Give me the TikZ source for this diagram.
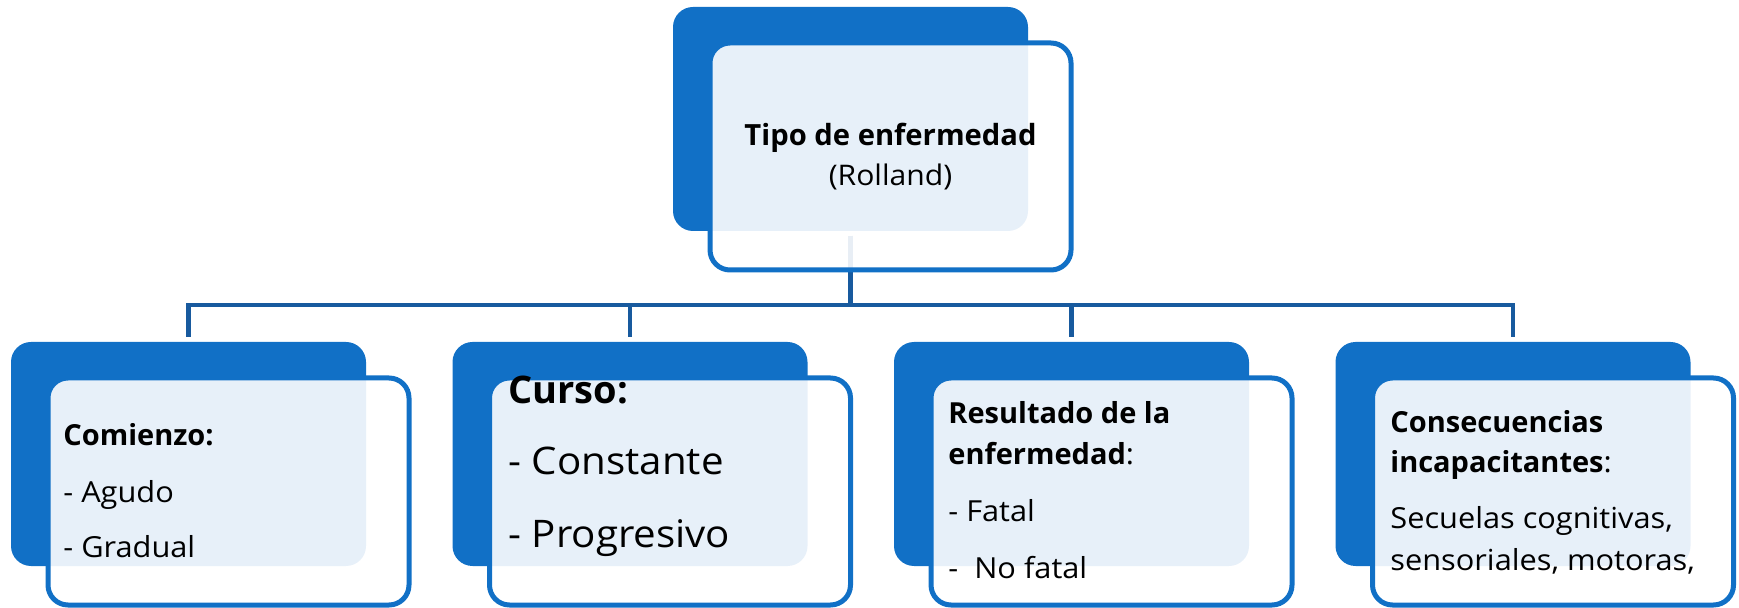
\documentclass[tikz,border=0pt]{standalone}
\usepackage{fontspec}
\setmainfont{Open Sans}[UprightFeatures={FakeStretch=1.06}]
\usepackage{tikz}

\definecolor{boxblue}{RGB}{17,112,198}
\definecolor{linkblue}{RGB}{24,90,158}

\tikzset{
  backbox/.style={rectangle, rounded corners=10pt, fill=boxblue, inner sep=0pt, outer sep=0pt,
    minimum width=177.5pt, minimum height=112pt, anchor=north west},
  frontbox/.style={rectangle, rounded corners=10pt, draw=boxblue, line width=2.5pt, fill=white,
    fill opacity=0.9, inner sep=0pt, outer sep=0pt, minimum width=180.5pt, minimum height=113.5pt,
    anchor=north west},
  link/.style={draw=linkblue, line width=2.25pt, shorten <=2.5pt, shorten >=2.5pt},
  txt/.style={anchor=base west, align=left, inner sep=0pt, text=black},
  body/.style={font=\fontsize{14.5pt}{20.5pt}\selectfont},
}

\begin{document}
\begin{tikzpicture}[x=0.5pt,y=-0.5pt]
\useasboundingbox (0,0) rectangle (1739,608);

% boxes behind
\node[backbox] (b0) at (673,7) {};
\foreach \i/\x in {1/11,2/452.5,3/894,4/1335.5}
  \node[backbox] (b\i) at (\x,342) {};

% connectors
\coordinate (bus) at (850.5,305);
\foreach \i in {1,...,4}
  \draw[link] (b0.south) -- (b0.south |- bus) -| (b\i.north);

% boxes in front
\node[frontbox] (f0) at (710,43) {};
\foreach \i/\x in {1/11,2/452.5,3/894,4/1335.5}
  \node[frontbox] (f\i) at (\x+37,378) {};

% texts
\node[align=center, inner sep=0pt, font=\fontsize{14.6pt}{20pt}\selectfont] (t0) at (f0.center)
  {\textbf{Tipo de enfermedad}\\{\fontsize{14.2pt}{20pt}\selectfont (Rolland)}};

\node[txt, body] (t1) at (63,558)
  {\textbf{Comienzo:}\\[7.5pt]- Agudo\\[7.5pt]- Gradual};

\node[txt, font=\fontsize{19pt}{26.5pt}\selectfont] (t2) at (508,547)
  {\textbf{Curso:}\\[9.5pt]- Constante\\[9.5pt]- Progresivo};

\node[txt, body] (t3) at (948,578)
  {\textbf{Resultado de la}\\\textbf{enfermedad}:\\[8pt]- Fatal\\[8pt]-~ No fatal};

\node[txt, body] (t4) at (1390,570)
  {\textbf{Consecuencias}\\\textbf{incapacitantes}:\\[7.5pt]Secuelas cognitivas,\\sensoriales, motoras,};

\end{tikzpicture}
\end{document}
